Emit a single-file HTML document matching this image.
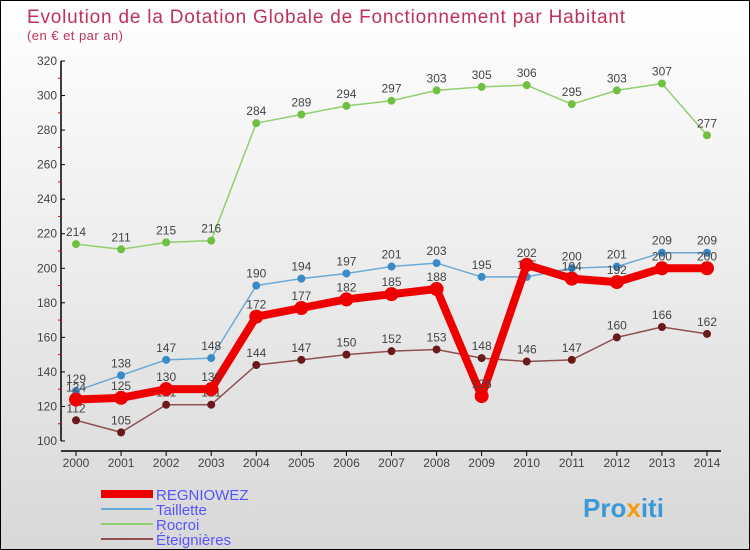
<!DOCTYPE html>
<html><head><meta charset="utf-8"><style>
body{margin:0}
#c{width:748px;height:548px;border:1px solid #000;background:linear-gradient(#fff,#d8d8d8);position:relative;overflow:hidden;font-family:"Liberation Sans",sans-serif}
</style></head><body>
<div id="c">
<svg id="s" width="748" height="548" font-family="Liberation Sans, sans-serif">
<text x="26" y="22" font-size="19" textLength="598" fill="#c0305a">Evolution de la Dotation Globale de Fonctionnement par Habitant</text>
<text x="26" y="39" font-size="13" textLength="96" fill="#c0305a">(en € et par an)</text>
<g id="ax"></g><g id="ser"></g>
<g>
<line x1="100" y1="493" x2="152" y2="493" stroke="#e00" stroke-width="8"/>
<text x="155" y="499" font-size="15" fill="#55f">REGNIOWEZ</text>
<line x1="100" y1="508" x2="152" y2="508" stroke="#6aaad8" stroke-width="2"/>
<text x="155" y="514" font-size="15" fill="#55f">Taillette</text>
<line x1="100" y1="523" x2="152" y2="523" stroke="#90d070" stroke-width="2"/>
<text x="155" y="529" font-size="15" fill="#55f">Rocroi</text>
<line x1="100" y1="538" x2="152" y2="538" stroke="#905050" stroke-width="2"/>
<text x="155" y="544" font-size="15" fill="#55f">Éteignières</text>
</g>
<text x="582" y="516" font-size="26" font-weight="bold" fill="#3a9ad8">Pro<tspan fill="#f39c12">x</tspan>iti</text>
</svg></div>
<script>
const years=[2000,2001,2002,2003,2004,2005,2006,2007,2008,2009,2010,2011,2012,2013,2014];
const regniowez=[124,125,130,130,172,177,182,185,188,126,202,194,192,200,200];
const taillette=[129,138,147,148,190,194,197,201,203,195,195,200,201,209,209];
const rocroi=[214,211,215,216,284,289,294,297,303,305,306,295,303,307,277];
const eteignieres=[112,105,121,121,144,147,150,152,153,148,146,147,160,166,162];
const yTicks=[100,120,140,160,180,200,220,240,260,280,300,320];
const NS="http://www.w3.org/2000/svg";
const X=i=>75+i*(706-75)/(years.length-1);
const Y=v=>440-(v-100)*380/220;
function mk(t,a,p){const e=document.createElementNS(NS,t);for(const k in a)e.setAttribute(k,a[k]);p.appendChild(e);return e;}
const ax=document.getElementById('ax'),ser=document.getElementById('ser');
const ya=mk('line',{x1:60,y1:60,x2:60,y2:440,stroke:'#000','stroke-width':1.5},ax);


const xa=mk('line',{x1:60,y1:450,x2:720,y2:450,stroke:'#000','stroke-width':1.5},ax);


yTicks.forEach((v,i)=>{
 mk('line',{x1:60,y1:Y(v),x2:64,y2:Y(v),stroke:'#000'},ax);
 if(i<yTicks.length-1)mk('line',{x1:57,y1:Y(v+10),x2:60,y2:Y(v+10),stroke:'#e00'},ax);
 const t=mk('text',{x:56,y:Y(v)+4,'font-size':12,fill:'#444','text-anchor':'end'},ax);t.textContent=v;
 
 
});
years.forEach((y,i)=>{
 mk('line',{x1:X(i),y1:450,x2:X(i),y2:455,stroke:'#000'},ax);
 const t=mk('text',{x:X(i),y:466,'font-size':12,fill:'#444','text-anchor':'middle'},ax);t.textContent=y;
 
 
});
function series(d,col,w,r,dot,name){
 const g=mk('g',{},ser);
 
 
 mk('polyline',{points:d.map((v,i)=>X(i)+','+Y(v)).join(' '),fill:'none',stroke:col,'stroke-width':w,'stroke-linejoin':'round'},g);
 d.forEach((v,i)=>{
  const c=mk('circle',{cx:X(i),cy:Y(v),r:r,fill:dot},g);
  
  
  const t=mk('text',{x:X(i),y:Y(v)-8,'font-size':12,fill:'#444','text-anchor':'middle'},g);t.textContent=v;
 });
}
series(rocroi,'#90d070',1.5,4,'#70c040','rocroi-series');
series(taillette,'#6aaad8',1.5,4,'#3a8ac8','taillette-series');
series(eteignieres,'#905050',1.5,4,'#6a1a1a','eteignieres-series');
series(regniowez,'#e00',8,7,'#e00','regniowez-series');
</script>
</body></html>
